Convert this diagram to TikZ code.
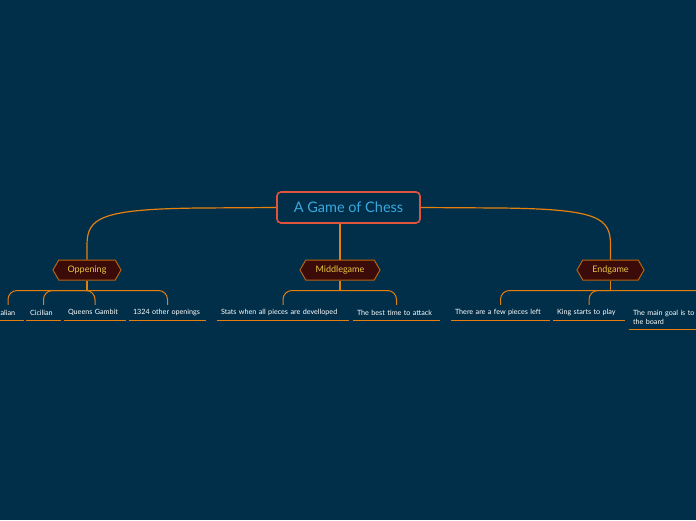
\documentclass[tikz,border=0pt]{standalone}
\usepackage{fontspec}
\setmainfont{Lato}
\usetikzlibrary{shapes.symbols}
\definecolor{bg}{HTML}{012F49}
\definecolor{rootred}{HTML}{E2533C}
\definecolor{rootblue}{HTML}{3BA7DD}
\definecolor{hexfill}{HTML}{3A0B09}
\definecolor{hexline}{HTML}{B8620F}
\definecolor{hextext}{HTML}{EDC840}
\definecolor{conn}{HTML}{E57F0E}
\tikzset{
  rootbox/.style={draw=rootred, line width=1.6pt, rounded corners=4pt, fill=bg,
    minimum width=143pt, minimum height=31pt, text=rootblue, font=\fontsize{14.5}{16}\selectfont},
  hexa/.style={shape=signal, signal to=west and east, signal from=nowhere, signal pointer angle=120,
    draw=hexline, line width=1pt, fill=hexfill, text=hextext, minimum height=20pt, inner xsep=2pt,
    font=\fontsize{9}{10}\selectfont},
  leaf/.style={text=white, font=\fontsize{7.2}{8.8}\selectfont, minimum height=15pt, inner ysep=0pt,
    inner xsep=4pt, align=left},
  uline/.style={draw=conn, line width=0.9pt},
  link/.style={draw=conn, line width=1.2pt},
  sublink/.style={draw=conn, line width=1pt, rounded corners=9pt}
}
\begin{document}
\begin{tikzpicture}[x=1pt,y=-1pt]
\fill[bg] (0,0) rectangle (696,520);
\useasboundingbox (0,0) rectangle (696,520);

\node[rootbox] (root) at (348.5,207.5) {A Game of Chess};

\node[hexa, minimum width=68pt] (op) at (87,270) {Oppening};
\node[hexa, minimum width=80pt] (mg) at (340,270) {Middlegame};
\node[hexa, minimum width=67pt] (eg) at (610.5,270) {Endgame};

% leaves
\node[leaf, text width=24pt] (l1) at (8,312.5) {Italian};
\node[leaf, text width=27pt] (l2) at (43.5,312.5) {Cicilian};
\node[leaf, text width=54pt] (l3) at (95,312.5) {Queens Gambit};
\node[leaf, text width=69pt] (l4) at (167.5,312.5) {1324 other openings};
\node[leaf, text width=124pt] (m1) at (283,312.5) {Stats when all pieces are develloped};
\node[leaf, text width=79pt] (m2) at (396.5,312.5) {The best time to attack};
\node[leaf, text width=91pt] (e1) at (500.5,312.5) {There are a few pieces left};
\node[leaf, text width=64pt] (e2) at (589,312.5) {King starts to play};
\node[leaf, text width=152pt, minimum height=24pt] (e3) at (709,317) {The main goal is to\\the board};

\foreach \n in {l1,l2,l3,l4,m1,m2,e1,e2,e3}{
  \draw[uline] (\n.south west) -- (\n.south east);
}

% root connectors
\draw[link] (root.west) -- (200,208) .. controls (100,209) and (87,218) .. (87,245) -- (op.north);
\draw[link] (root.east) -- (500,208) .. controls (599,209) and (610.5,218) .. (610.5,245) -- (eg.north);
\draw[link] (root.south -| mg.north) -- (mg.north);

% junctions
\coordinate (opj) at (87,290.5);
\coordinate (mgj) at (340,290.5);
\coordinate (egj) at (610.5,290.5);
\draw[link] (op.south) -- (opj);
\draw[link] (mg.south) -- (mgj);
\draw[link] (eg.south) -- (egj);

\foreach \n in {l1,l2,l3,l4}{ \draw[sublink] (opj) -| (\n.north); }
\foreach \n in {m1,m2}{ \draw[sublink] (mgj) -| (\n.north); }
\foreach \n in {e1,e2,e3}{ \draw[sublink] (egj) -| (\n.north); }
\end{tikzpicture}
\end{document}
